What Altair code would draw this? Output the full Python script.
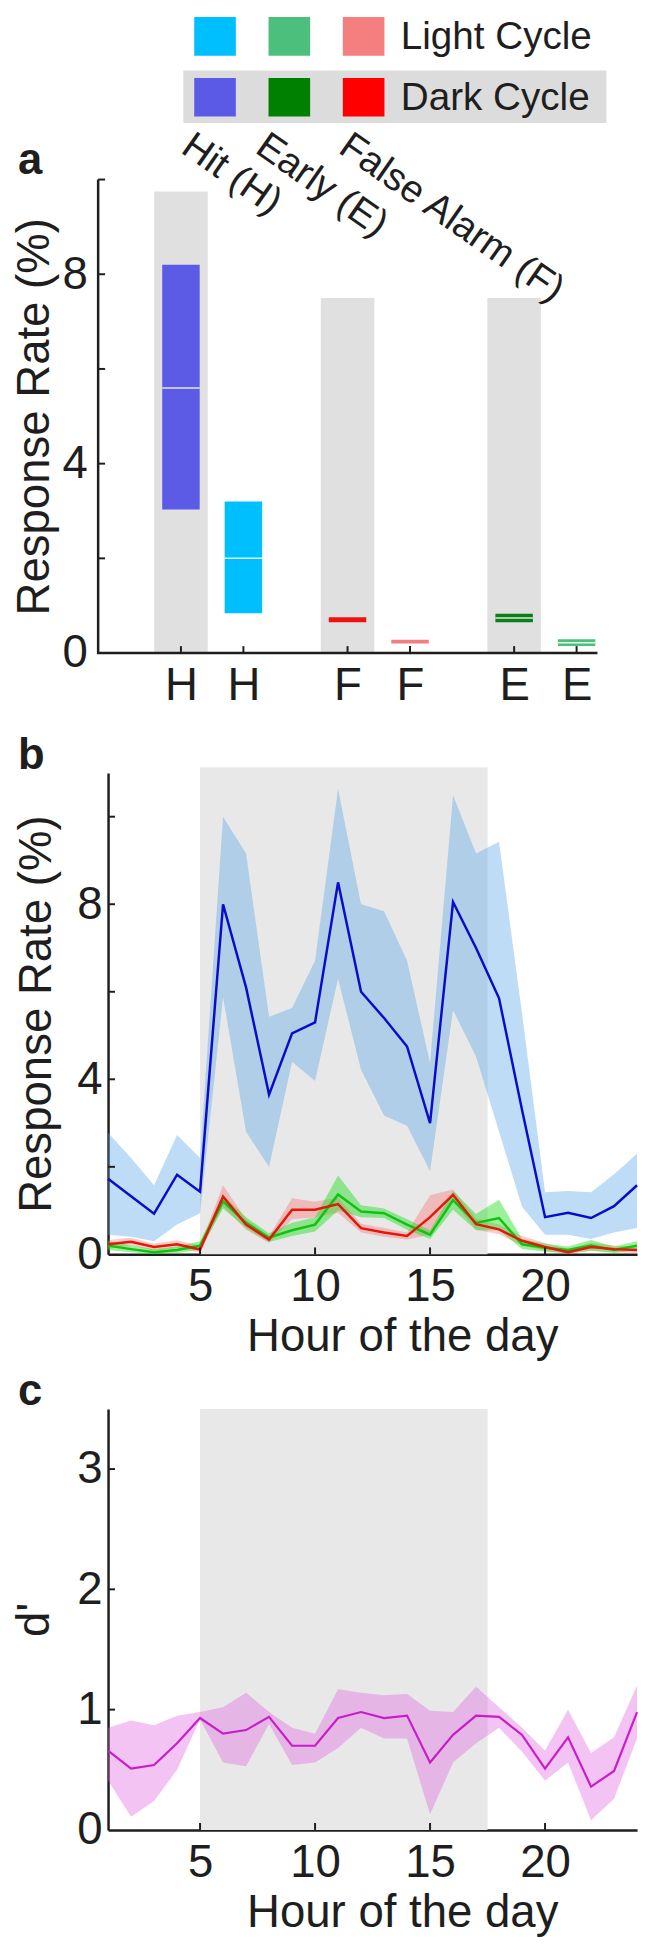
import altair as alt
import pandas as pd

FONT = "Liberation Sans"
INK = "#1e1e1e"

# ---------------- data ----------------
legend_rows = ["Light Cycle", "Dark Cycle"]
legend_light = ["#00bfff", "#4cbf7c", "#f57f7f"]
legend_dark = ["#5a5ae6", "#008000", "#ff0000"]

resp_names = ["Hit (H)", "Early (E)", "False Alarm (F)"]

cat_labels = ["H", "H", "F", "F", "E", "E"]
cat_pos = [1.0, 1.6, 2.6, 3.2, 4.2, 4.8]
box_low = [3.03, 0.84, 0.65, 0.20, 0.65, 0.15]
box_high = [8.20, 3.20, 0.755, 0.28, 0.83, 0.29]
box_median = [5.60, 2.00, None, None, 0.74, 0.22]
box_colors = ["#5b5be6", "#00bfff", "#ee1111", "#f27f7f", "#0a7d1a", "#4cbf7c"]
dark_pos = [1.0, 2.6, 4.2]
dark_band_top = [9.75, 7.5, 7.5]

hours = list(range(1, 25))
hit_mean = [1.73, 1.33, 0.93, 1.82, 1.43, 8.0, 6.1, 3.65, 5.05, 5.3, 8.5, 6.0,
            5.4, 4.75, 3.0, 8.05, 7.0, 5.85, 3.3, 0.85, 0.95, 0.83, 1.1, 1.58]
hit_hi = [2.78, 2.2, 1.58, 2.73, 2.2, 10.0, 9.16, 5.43, 5.63, 6.71, 10.63, 8.0,
          7.84, 6.71, 4.37, 10.49, 9.16, 9.43, 5.5, 1.42, 1.45, 1.42, 1.83, 2.3]
hit_lo = [0.45, 0.4, 0.3, 0.68, 0.94, 5.88, 2.8, 2.0, 4.4, 3.96, 6.3, 4.22,
          3.17, 2.94, 1.9, 5.58, 4.52, 2.8, 1.09, 0.45, 0.45, 0.35, 0.5, 0.6]

fa_mean = [0.23, 0.29, 0.17, 0.23, 0.11, 1.32, 0.68, 0.34, 1.02, 1.02, 1.15, 0.6,
           0.5, 0.42, 0.85, 1.36, 0.69, 0.57, 0.31, 0.17, 0.05, 0.17, 0.12, 0.1]
fa_hi = [0.33, 0.38, 0.25, 0.32, 0.2, 1.58, 0.8, 0.42, 1.28, 1.2, 1.3, 0.7,
         0.6, 0.5, 1.35, 1.48, 0.82, 0.68, 0.42, 0.26, 0.12, 0.27, 0.2, 0.17]
fa_lo = [0.13, 0.2, 0.09, 0.14, 0.04, 1.1, 0.56, 0.26, 0.8, 0.85, 0.95, 0.5,
         0.4, 0.34, 0.45, 1.2, 0.56, 0.46, 0.2, 0.08, 0.0, 0.08, 0.05, 0.03]

early_mean = [0.2, 0.12, 0.05, 0.1, 0.2, 1.21, 0.72, 0.38, 0.55, 0.68, 1.37, 0.98,
              0.94, 0.68, 0.45, 1.24, 0.72, 0.83, 0.23, 0.15, 0.1, 0.2, 0.1, 0.2]
early_hi = [0.3, 0.2, 0.12, 0.18, 0.3, 1.35, 0.85, 0.48, 0.72, 0.85, 1.8, 1.12,
            1.05, 0.8, 0.55, 1.45, 0.92, 1.25, 0.35, 0.24, 0.18, 0.33, 0.18, 0.3]
early_lo = [0.1, 0.05, 0.0, 0.03, 0.1, 1.05, 0.6, 0.28, 0.42, 0.52, 1.0, 0.85,
            0.83, 0.56, 0.35, 1.02, 0.55, 0.55, 0.12, 0.06, 0.03, 0.08, 0.03, 0.1]

dprime = [0.66, 0.51, 0.54, 0.72, 0.93, 0.80, 0.83, 0.94, 0.70, 0.70, 0.93, 0.98,
          0.93, 0.95, 0.56, 0.79, 0.95, 0.94, 0.79, 0.51, 0.77, 0.36, 0.49, 0.98]
dprime_hi = [0.85, 0.91, 0.87, 0.95, 0.98, 1.02, 1.14, 0.98, 0.85, 0.80, 1.17, 1.14,
             1.12, 1.13, 0.99, 0.98, 1.19, 1.02, 0.85, 0.66, 1.0, 0.64, 0.77, 1.2]
dprime_lo = [0.41, 0.11, 0.24, 0.5, 0.92, 0.56, 0.53, 0.88, 0.54, 0.56, 0.68, 0.85,
             0.76, 0.76, 0.13, 0.56, 0.72, 0.85, 0.65, 0.41, 0.56, 0.08, 0.26, 0.76]

dark_start, dark_end = 5, 17.5


# ---------------- helpers ----------------
def qscale(dom):
    return alt.Scale(domain=dom, nice=False, zero=False)


def letter(t, dy):
    return alt.Chart(pd.DataFrame({"t": [t]})).mark_text(
        font=FONT, fontSize=44, fontWeight="bold", color=INK, align="left",
        baseline="alphabetic").encode(text="t:N", x=alt.value(-91), y=alt.value(dy))


def xticks(vals, xs, xa, h):
    return alt.Chart(pd.DataFrame({"v": vals})).mark_rule(color=INK, strokeWidth=2).encode(
        x=alt.X("v:Q", scale=xs, axis=xa), y=alt.value(h), y2=alt.value(h - 7))


def yticks(vals, ys, ya, x0=0):
    return alt.Chart(pd.DataFrame({"v": vals})).mark_rule(color=INK, strokeWidth=2).encode(
        y=alt.Y("v:Q", scale=ys, axis=ya), x=alt.value(x0), x2=alt.value(x0 + 7))


def lab_expr(values, labels):
    arr = "[" + ",".join("'%s'" % l for l in labels) + "]"
    vals = "[" + ",".join(repr(v) for v in values) + "]"
    return "%s[indexof(%s, datum.value)]" % (arr, vals)


AX_COMMON = dict(grid=False, ticks=False, labelFont=FONT, titleFont=FONT,
                 labelColor=INK, titleColor=INK, labelFontSize=46, titleFontSize=46,
                 titleFontWeight="normal", domainColor=INK, domainWidth=2.5,
                 labelOverlap=False, labelFlush=False)

PW = 534  # plot width of legend/b/c panels

# ---------------- legend ----------------
LH = 107
lx = qscale([-1.44, 5.68])
ly = qscale([-0.423, 1.317])
sw = []
for row, cols in [(1, legend_light), (0, legend_dark)]:
    for i, c in enumerate(cols):
        sw.append(dict(x=i - 0.28, x2=i + 0.28, y=row - 0.317, y2=row + 0.317, c=c))
leg_box = alt.Chart(pd.DataFrame({"x": [-0.427], "x2": [5.267], "y": [-0.423], "y2": [0.439]})).mark_rect(
    color="#dcdcdc").encode(x=alt.X("x:Q", scale=lx, axis=None), x2="x2:Q",
                            y=alt.Y("y:Q", scale=ly, axis=None), y2="y2:Q")
leg_sw = alt.Chart(pd.DataFrame(sw)).mark_rect().encode(
    x=alt.X("x:Q", scale=lx, axis=None), x2="x2:Q",
    y=alt.Y("y:Q", scale=ly, axis=None), y2="y2:Q", color=alt.Color("c:N", scale=None))
leg_txt = alt.Chart(pd.DataFrame({"t": legend_rows, "row": [1, 0], "x": [2.5, 2.5]})).mark_text(
    align="left", baseline="alphabetic", font=FONT, fontSize=39, color=INK, dy=12.5).encode(
    x=alt.X("x:Q", scale=lx, axis=None), y=alt.Y("row:Q", scale=ly, axis=None), text="t:N")
legend = alt.layer(leg_box, leg_sw, leg_txt).properties(width=PW, height=LH)

# ---------------- panel a ----------------
AW, AH = 494, 478
ax = qscale([0.3, 5.0])
ay = qscale([0, 10])
xaxis_a = alt.Axis(values=cat_pos, labelExpr=lab_expr(cat_pos, cat_labels), domain=False,
                   labelPadding=11, title=None, **AX_COMMON)
yaxis_a = alt.Axis(values=[0, 2, 4, 6, 8, 10], labelExpr="datum.value % 4 == 0 ? datum.label : ''",
                   offset=10, domain=False, labelPadding=11, title="Response Rate (%)", titlePadding=4,
                   **{k: v for k, v in AX_COMMON.items()})
band_df = pd.DataFrame({"x": [p - 0.257 for p in dark_pos], "x2": [p + 0.257 for p in dark_pos],
                        "y": [0] * len(dark_pos), "y2": dark_band_top})
a_band = alt.Chart(band_df).mark_rect(color="#e0e0e0").encode(
    x=alt.X("x:Q", scale=ax, axis=xaxis_a), x2="x2:Q",
    y=alt.Y("y:Q", scale=ay, axis=yaxis_a), y2="y2:Q")
box_df = pd.DataFrame({"pos": cat_pos, "low": box_low, "high": box_high, "med": box_median, "c": box_colors})
box_df["x"] = box_df["pos"] - 0.18
box_df["x2"] = box_df["pos"] + 0.18
a_box = alt.Chart(box_df).mark_rect().encode(
    x=alt.X("x:Q", scale=ax, axis=xaxis_a), x2="x2:Q",
    y=alt.Y("low:Q", scale=ay, axis=yaxis_a), y2="high:Q", color=alt.Color("c:N", scale=None))
a_med = alt.Chart(box_df.dropna(subset=["med"])).mark_rule(color="white", strokeWidth=1.5, opacity=0.85).encode(
    x=alt.X("x:Q", scale=ax, axis=xaxis_a), x2="x2:Q", y=alt.Y("med:Q", scale=ay, axis=yaxis_a))
a_base = alt.Chart(pd.DataFrame({"y": [0]})).mark_rule(color=INK, strokeWidth=2.5).encode(
    y=alt.Y("y:Q", scale=ay, axis=yaxis_a), x=alt.value(-11), x2=alt.value(AW))
a_yline = alt.Chart(pd.DataFrame({"y": [0]})).mark_rule(color=INK, strokeWidth=2.5).encode(
    x=alt.value(-10), y=alt.value(0), y2=alt.value(AH + 1))
a_layers = [a_band, a_box, a_med, a_base, a_yline, xticks(cat_pos, ax, xaxis_a, AH),
            yticks([2, 4, 6, 8, 10], ay, yaxis_a, -10)]
for name, (px, py) in zip(resp_names, [(72, -28), (147, -28), (231, -28)]):
    a_layers.append(alt.Chart(pd.DataFrame({"t": [name]})).mark_text(
        font=FONT, fontSize=39, color=INK, align="left", baseline="alphabetic", angle=35).encode(
        text="t:N", x=alt.value(px), y=alt.value(py)))
a_layers.append(letter("a", -6))
panel_a = alt.layer(*a_layers).properties(width=AW, height=AH)

# ---------------- panel b ----------------
BH = 486
hx = qscale([1, 24])
by = qscale([0, 11])
b_df = pd.DataFrame({"hour": hours, "hit": hit_mean, "hit_hi": hit_hi, "hit_lo": hit_lo,
                     "fa": fa_mean, "fa_hi": fa_hi, "fa_lo": fa_lo,
                     "early": early_mean, "early_hi": early_hi, "early_lo": early_lo})
xaxis_b = alt.Axis(values=[5, 10, 15, 20], labelPadding=11, title="Hour of the day",
                   titlePadding=5, titleX=297, **AX_COMMON)
yaxis_b = alt.Axis(values=[0, 2, 4, 6, 8, 10], labelExpr="datum.value % 4 == 0 ? datum.label : ''",
                   labelPadding=6, title="Response Rate (%)", titlePadding=17, **AX_COMMON)
b_band = alt.Chart(pd.DataFrame({"x": [dark_start], "x2": [dark_end], "y": [0], "y2": [11.13]})).mark_rect(
    color="#e8e8e8").encode(x=alt.X("x:Q", scale=hx, axis=xaxis_b), x2="x2:Q",
                            y=alt.Y("y:Q", scale=by, axis=yaxis_b), y2="y2:Q")


def area(df, lo, hi, xs, xa, ys, ya, color, op):
    return alt.Chart(df).mark_area(color=color, opacity=op).encode(
        x=alt.X("hour:Q", scale=xs, axis=xa), y=alt.Y(lo + ":Q", scale=ys, axis=ya), y2=hi + ":Q")


def line(df, f, xs, xa, ys, ya, color, w=2.5):
    return alt.Chart(df).mark_line(color=color, strokeWidth=w).encode(
        x=alt.X("hour:Q", scale=xs, axis=xa), y=alt.Y(f + ":Q", scale=ys, axis=ya))


panel_b = alt.layer(
    b_band,
    area(b_df, "hit_lo", "hit_hi", hx, xaxis_b, by, yaxis_b, "#58a5e5", 0.39),
    area(b_df, "fa_lo", "fa_hi", hx, xaxis_b, by, yaxis_b, "#ff5050", 0.3),
    area(b_df, "early_lo", "early_hi", hx, xaxis_b, by, yaxis_b, "#20e020", 0.45),
    line(b_df, "hit", hx, xaxis_b, by, yaxis_b, "#0c0cc8"),
    line(b_df, "early", hx, xaxis_b, by, yaxis_b, "#12c212"),
    line(b_df, "fa", hx, xaxis_b, by, yaxis_b, "#e3170a"),
    xticks([5, 10, 15, 20], hx, xaxis_b, BH),
    yticks([2, 4, 6, 8, 10], by, yaxis_b),
    letter("b", -4),
).properties(width=PW, height=BH)

# ---------------- panel c ----------------
CH = 425
cy = qscale([0, 3.5])
c_df = pd.DataFrame({"hour": hours, "d": dprime, "d_hi": dprime_hi, "d_lo": dprime_lo})
xaxis_c = alt.Axis(values=[5, 10, 15, 20], labelPadding=11, title="Hour of the day",
                   titlePadding=5, titleX=297, **AX_COMMON)
yaxis_c = alt.Axis(values=[0, 1, 2, 3], labelPadding=6, title="d'", titlePadding=19, **AX_COMMON)
c_band = alt.Chart(pd.DataFrame({"x": [dark_start], "x2": [dark_end], "y": [0], "y2": [3.5]})).mark_rect(
    color="#e8e8e8").encode(x=alt.X("x:Q", scale=hx, axis=xaxis_c), x2="x2:Q",
                            y=alt.Y("y:Q", scale=cy, axis=yaxis_c), y2="y2:Q")
panel_c = alt.layer(
    c_band,
    area(c_df, "d_lo", "d_hi", hx, xaxis_c, cy, yaxis_c, "#e060e0", 0.38),
    line(c_df, "d", hx, xaxis_c, cy, yaxis_c, "#c81ec8", 2.2),
    xticks([5, 10, 15, 20], hx, xaxis_c, CH),
    yticks([1, 2, 3], cy, yaxis_c),
    letter("c", -4),
).properties(width=PW, height=CH)


def spacer(h):
    return alt.Chart(pd.DataFrame({"v": [0]})).mark_point(opacity=0).encode(
        x=alt.value(0), y=alt.value(0)).properties(width=PW, height=h)


GAP = 57
chart = alt.vconcat(
    legend, panel_a, spacer(121 - 2 * GAP), panel_b, spacer(156 - 2 * GAP), panel_c,
    spacing=GAP, bounds="flush",
    padding={"left": 3, "top": 0, "right": 0, "bottom": 0},
).configure(font=FONT).configure_view(stroke=None)

chart.save("out.html", embed_options={"renderer": "svg", "actions": False})
